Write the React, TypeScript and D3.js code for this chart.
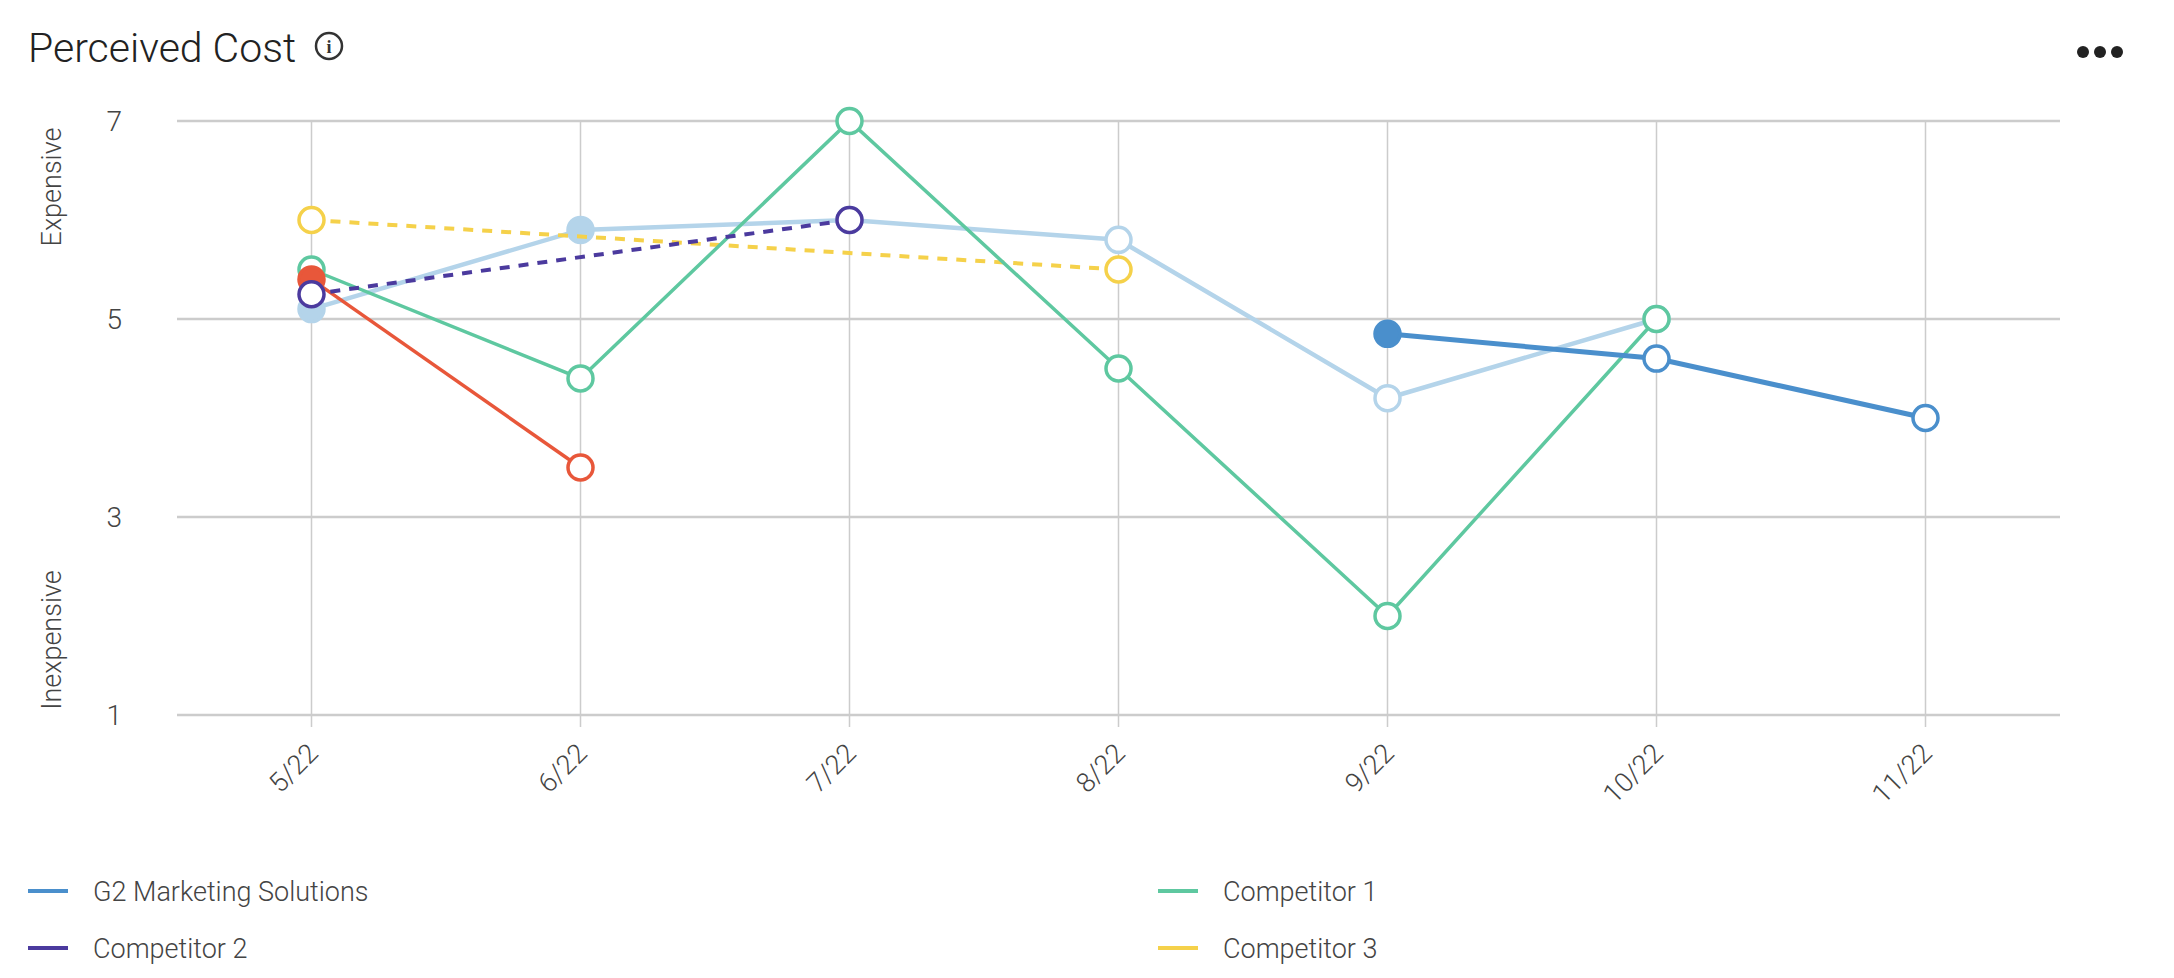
import * as d3 from 'd3'

const months = ['5/22', '6/22', '7/22', '8/22', '9/22', '10/22', '11/22']
const yTicks = [1, 3, 5, 7]

type V = number | null
const g2Values: V[] = [null, null, null, null, 4.85, 4.6, 4.0]
const comp1Values: V[] = [5.5, 4.4, 7.0, 4.5, 2.0, 5.0, null]
const comp2Values: V[] = [5.25, null, 6.0, null, null, null, null]
const comp3Values: V[] = [6.0, null, null, 5.5, null, null, null]
const lightValues: V[] = [5.1, 5.9, 6.0, 5.8, 4.2, 5.0, null]
const redValues: V[] = [5.4, 3.5, null, null, null, null, null]

const g2Filled = [false, false, false, false, true, false, false]
const lightFilled = [true, true, false, false, false, false, false]
const redFilled = [true, false, false, false, false, false, false]
const noneFilled = [false, false, false, false, false, false, false]

const legendNames = ['G2 Marketing Solutions', 'Competitor 1', 'Competitor 2', 'Competitor 3']
const legendColors = ['#4a8fcc', '#5ec8a0', '#4b3a9e', '#f5d14a']

const series = [
  { values: lightValues, filled: lightFilled, color: '#b4d4ea', width: 4.5, dash: '' },
  { values: comp3Values, filled: noneFilled, color: '#f5d14a', width: 4, dash: '10,9' },
  { values: comp1Values, filled: noneFilled, color: '#5ec8a0', width: 3.5, dash: '' },
  { values: redValues, filled: redFilled, color: '#e8573a', width: 3.5, dash: '' },
  { values: comp2Values, filled: noneFilled, color: '#4b3a9e', width: 4, dash: '10,9' },
  { values: g2Values, filled: g2Filled, color: '#4a8fcc', width: 5, dash: '' },
]

const W = 2174
const H = 978
const left = 177
const right = 2060
const top = 121
const bottom = 715
const font = 'Roboto, "Noto Sans", sans-serif'
const textColor = '#444'

export default function App() {
  const x = d3.scalePoint<string>().domain(months).range([left, right]).padding(0.5)
  const y = d3.scaleLinear().domain([1, 7]).range([bottom, top])

  return (
    <svg width={W} height={H} style={{ position: 'absolute', left: 0, top: 0, background: '#fff' }}>
      <text x={28} y={62} fontFamily={font} fontWeight={300} fontSize={41} fill="#222">
        Perceived Cost
      </text>
      <circle cx={329} cy={46} r={13} fill="none" stroke="#333" strokeWidth={2.5} />
      <text x={329} y={53} textAnchor="middle" fontFamily="serif" fontWeight={700} fontSize={18} fill="#333">
        i
      </text>
      {[2083, 2100, 2117].map((cx) => (
        <circle key={cx} cx={cx} cy={52} r={6} fill="#222" />
      ))}

      {yTicks.map((t) => (
        <g key={t}>
          <line x1={left} x2={right} y1={y(t)} y2={y(t)} stroke="#cccccc" strokeWidth={2.5} />
          <text x={122} y={y(t) + 10} textAnchor="end" fontFamily={font} fontWeight={300} fontSize={28} fill={textColor}>
            {t}
          </text>
        </g>
      ))}
      {months.map((m) => (
        <g key={m}>
          <line x1={x(m)} x2={x(m)} y1={top} y2={bottom + 12} stroke="#cccccc" strokeWidth={1.5} />
          <text
            transform={`translate(${(x(m) ?? 0) + 8},${bottom + 40}) rotate(-45)`}
            textAnchor="end"
            fontFamily={font}
            fontWeight={300}
            fontSize={27}
            fill={textColor}
          >
            {m}
          </text>
        </g>
      ))}
      <text transform={`translate(61,187) rotate(-90)`} textAnchor="middle" fontFamily={font} fontWeight={300} fontSize={27} fill={textColor}>
        Expensive
      </text>
      <text transform={`translate(61,640) rotate(-90)`} textAnchor="middle" fontFamily={font} fontWeight={300} fontSize={27} fill={textColor}>
        Inexpensive
      </text>

      {series.map((s, i) => {
        const pts = s.values
          .map((v, j) => ({ v, j }))
          .filter((p) => p.v !== null) as { v: number; j: number }[]
        const line = d3
          .line<{ v: number; j: number }>()
          .x((p) => x(months[p.j]) ?? 0)
          .y((p) => y(p.v))
        return (
          <g key={i}>
            <path d={line(pts) ?? ''} fill="none" stroke={s.color} strokeWidth={s.width} strokeDasharray={s.dash} />
            {pts.map((p) => (
              <circle
                key={p.j}
                cx={x(months[p.j])}
                cy={y(p.v)}
                r={12.5}
                fill={s.filled[p.j] ? s.color : '#fff'}
                stroke={s.color}
                strokeWidth={3.5}
              />
            ))}
          </g>
        )
      })}

      {legendNames.map((n, i) => {
        const lx = i % 2 === 0 ? 28 : 1158
        const ly = i < 2 ? 891 : 948
        return (
          <g key={n}>
            <line x1={lx} x2={lx + 40} y1={ly} y2={ly} stroke={legendColors[i]} strokeWidth={4} />
            <text x={lx + 65} y={ly + 10} fontFamily={font} fontWeight={300} fontSize={27} fill={textColor}>
              {n}
            </text>
          </g>
        )
      })}
    </svg>
  )
}
